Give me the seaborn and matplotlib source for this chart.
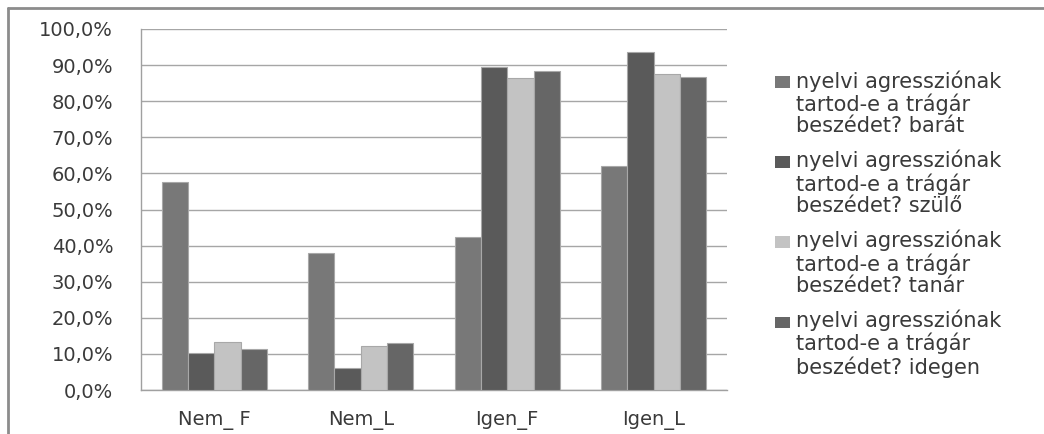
import matplotlib
matplotlib.use("Agg")
import matplotlib.pyplot as plt
from matplotlib.lines import Line2D
from matplotlib.patches import Patch, Rectangle
from matplotlib.legend_handler import HandlerBase
from matplotlib.ticker import FuncFormatter, FixedLocator
import seaborn as sns
import pandas as pd

categories = ["Nem_ F", "Nem_L", "Igen_F", "Igen_L"]
series = [
    "nyelvi agressziónak\ntartod-e a trágár\nbeszédet? barát",
    "nyelvi agressziónak\ntartod-e a trágár\nbeszédet? szülő",
    "nyelvi agressziónak\ntartod-e a trágár\nbeszédet? tanár",
    "nyelvi agressziónak\ntartod-e a trágár\nbeszédet? idegen",
]
barat = [57.7, 38.0, 42.3, 62.0]
szulo = [10.3, 6.0, 89.6, 93.6]
tanar = [13.4, 12.3, 86.5, 87.5]
idegen = [11.4, 13.1, 88.5, 86.6]
colors = ["#787878", "#5a5a5a", "#c3c3c3", "#666666"]

rows = []
for name, vals in zip(series, [barat, szulo, tanar, idegen]):
    for cat, v in zip(categories, vals):
        rows.append({"kategória": cat, "sorozat": name, "érték": v})
df = pd.DataFrame(rows)

sns.set_style("white")
plt.rcParams["font.family"] = ["DejaVu Sans"]

W, H = 1044, 434
fig = plt.figure(figsize=(W / 100, H / 100), dpi=100)
ax = fig.add_axes([141 / W, 1 - 390 / H, (727 - 141) / W, (390 - 29) / H])

sns.barplot(data=df, x="kategória", y="érték", hue="sorozat", order=categories,
            hue_order=series, palette=colors, width=0.72, gap=0,
            edgecolor="#a8a8a8", linewidth=0.8, saturation=1, ax=ax, zorder=3,
            legend=False)

ax.set_ylim(0, 100)
ax.set_xlim(-0.5, 3.5)
ax.set_yticks(range(0, 101, 10))
ax.yaxis.set_major_formatter(FuncFormatter(lambda v, p: f"{v:.1f}%".replace(".", ",")))
ax.grid(axis="y", color="#a6a6a6", linewidth=1.0, zorder=0)
ax.set_axisbelow(True)
ax.set_xlabel("")
ax.set_ylabel("")

for s in ["top", "right"]:
    ax.spines[s].set_visible(False)
for s in ["left", "bottom"]:
    ax.spines[s].set_color("#a0a0a0")
    ax.spines[s].set_linewidth(1.0)

TXT = "#3a3a3a"
ax.tick_params(axis="y", which="major", direction="out", length=9, width=1,
               color="#a0a0a0", pad=11, labelsize=14, labelcolor=TXT)
ax.tick_params(axis="x", which="major", length=0, pad=15, labelsize=14,
               labelcolor=TXT)
ax.xaxis.set_minor_locator(FixedLocator([-0.5, 0.5, 1.5, 2.5, 3.5]))
ax.tick_params(axis="x", which="minor", direction="out", length=4, width=1,
               color="#a0a0a0")

LEG_FS = 15
LINE_PT = 15.7  # distance between text lines, points


class TopKey(HandlerBase):
    """Legend key drawn level with the first line of a multi-line label."""

    def create_artists(self, legend, orig_handle, xdescent, ydescent, width,
                       height, fontsize, trans):
        r = Rectangle((-xdescent, -ydescent + LINE_PT), width, height,
                      facecolor=orig_handle.get_facecolor(), edgecolor="none",
                      transform=trans)
        return [r]


handles = [Patch(facecolor=c) for c in colors]
leg = ax.legend(handles, series, loc="upper left",
                bbox_to_anchor=(775 / W, 1 - 70 / H), bbox_transform=fig.transFigure,
                frameon=False, fontsize=LEG_FS, handlelength=0.7, handleheight=0.5,
                handletextpad=0.3, labelspacing=0.65, labelcolor=TXT,
                borderaxespad=0, borderpad=0, handler_map={Patch: TopKey()})
for t in leg.get_texts():
    t.set_linespacing(1.1)

# outer chart frame (left and top edges)
frame_kw = dict(color="#8c8c8c", linewidth=2, transform=fig.transFigure)
fig.add_artist(Line2D([7.5 / W, 7.5 / W], [0, 1 - 7.5 / H], **frame_kw))
fig.add_artist(Line2D([7.5 / W, 1], [1 - 7.5 / H, 1 - 7.5 / H], **frame_kw))

fig.savefig("out.png", dpi=100)
